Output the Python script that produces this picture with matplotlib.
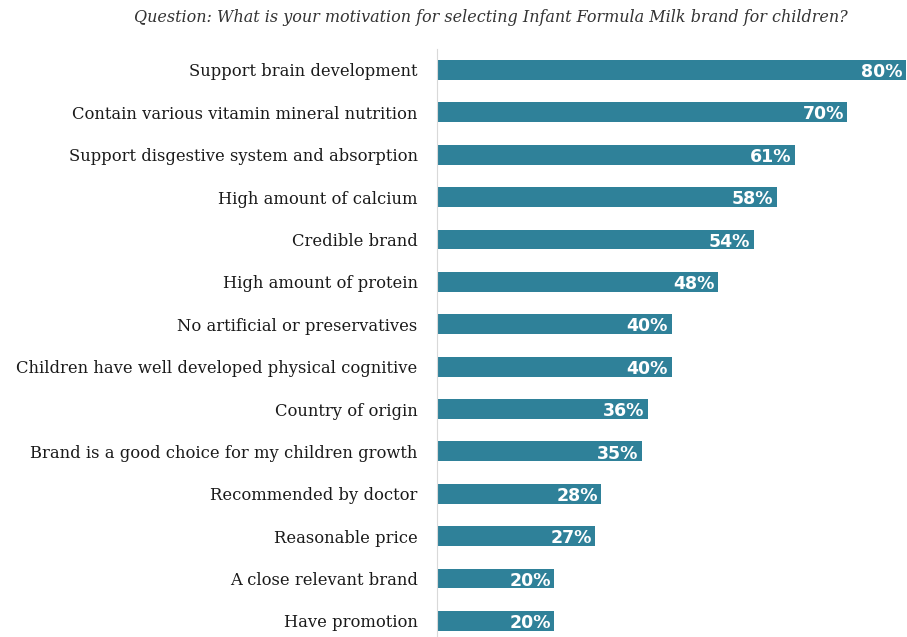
import matplotlib.pyplot as plt

# survey answers, top to bottom
categories = [
    'Support brain development',
    'Contain various vitamin mineral nutrition',
    'Support disgestive system and absorption',
    'High amount of calcium',
    'Credible brand',
    'High amount of protein',
    'No artificial or preservatives',
    'Children have well developed physical cognitive',
    'Country of origin',
    'Brand is a good choice for my children growth',
    'Recommended by doctor',
    'Reasonable price',
    'A close relevant brand',
    'Have promotion',
]
values = [80, 70, 61, 58, 54, 48, 40, 40, 36, 35, 28, 27, 20, 20]

title = 'Question: What is your motivation for selecting Infant Formula Milk brand for children?'

bar_color = '#2f8199'
serif = ['DejaVu Serif']

fig = plt.figure(figsize=(9.07, 6.37), dpi=100)
ax = fig.add_axes([437 / 907, 0.0, 1 - 438 / 907, (637 - 48.8) / 637])

y = list(range(len(categories)))
ax.barh(y, values, height=0.47, color=bar_color)
ax.set_xlim(0, 80)
ax.set_ylim(13.38, -0.5)

for yi, v in zip(y, values):
    ax.text(v - 0.6, yi + 0.05, f'{v}%', ha='right', va='center', color='white',
            fontsize=12.5, fontweight='bold', family='DejaVu Sans')

ax.set_yticks(y)
ax.set_yticklabels(categories, family=serif, fontsize=11.8, color='#1a1a1a')
ax.tick_params(axis='y', length=0, pad=14)
ax.set_xticks([])
for s in ['top', 'right', 'bottom']:
    ax.spines[s].set_visible(False)
ax.spines['left'].set_color('#d9d9d9')

fig.text(491 / 907, 1 - 18 / 637, title, ha='center', va='center',
         family=serif, style='italic', fontsize=11.5, color='#333333')

fig.savefig('out.png', dpi=100)
